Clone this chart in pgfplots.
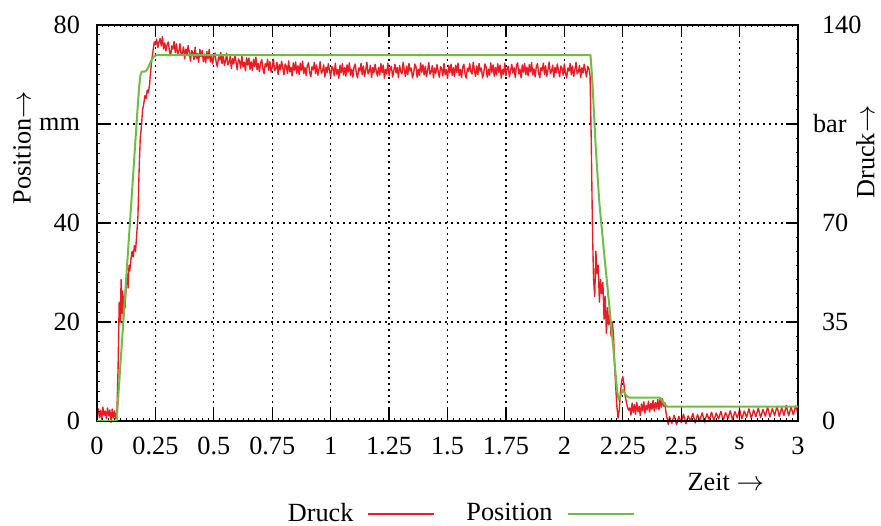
\documentclass[border=0pt]{standalone}
\usepackage{pgfplots}
\pgfplotsset{compat=1.18}
\usepackage{fontspec}
\setmainfont{Liberation Serif}

\definecolor{druckred}{RGB}{236,28,36}
\definecolor{posgreen}{RGB}{108,190,69}

% Druck (bar) over time (s)
\pgfplotstableread{
t p
0.000 2.1
0.005 4.3
0.010 1.2
0.015 3.8
0.020 0.6
0.025 4.9
0.030 2.0
0.035 3.5
0.040 0.9
0.045 4.6
0.050 1.8
0.055 3.9
0.060 -0.5
0.065 4.2
0.070 1.0
0.075 3.6
0.080 0.8
0.085 3.0
0.090 18
0.095 42
0.100 35
0.103 50
0.106 38
0.110 46
0.113 36
0.117 44
0.120 40
0.125 48
0.130 52
0.133 47
0.137 55
0.140 53
0.145 57
0.150 60
0.155 58
0.160 62
0.165 60
0.170 66
0.175 72
0.180 88
0.185 100
0.190 104
0.195 110
0.200 112
0.205 115
0.210 114
0.215 117
0.220 116
0.225 119
0.230 124
0.235 128
0.240 131
0.245 134
0.250 133
0.255 135
0.260 132
0.265 134
0.270 135.2
0.275 132.6
0.280 135.9
0.285 131.5
0.290 133.7
0.295 130.8
0.300 133.0
0.305 134.0
0.310 130.7
0.315 129.1
0.320 132.6
0.325 131.5
0.330 134.2
0.335 130.2
0.340 133.3
0.345 129.6
0.350 130.7
0.355 133.4
0.360 129.3
0.365 130.1
0.370 132.3
0.375 128.0
0.380 131.5
0.385 129.6
0.390 132.7
0.395 130.4
0.400 127.2
0.405 131.0
0.410 130.2
0.415 127.7
0.420 132.1
0.425 128.2
0.430 129.9
0.435 126.8
0.440 131.4
0.445 128.8
0.450 131.0
0.455 127.0
0.460 129.7
0.465 126.6
0.470 130.6
0.475 128.0
0.480 131.3
0.485 126.9
0.490 129.1
0.495 126.2
0.500 129.1
0.505 130.1
0.510 126.8
0.515 125.2
0.520 128.7
0.525 127.6
0.530 130.3
0.535 126.3
0.540 129.4
0.545 125.7
0.550 127.3
0.555 130.0
0.560 125.9
0.565 126.7
0.570 128.9
0.575 124.6
0.580 128.1
0.585 126.2
0.590 129.3
0.595 127.0
0.600 124.2
0.605 128.0
0.610 127.2
0.615 124.7
0.620 129.1
0.625 125.2
0.630 126.9
0.635 123.8
0.640 128.4
0.645 125.8
0.650 128.3
0.655 124.3
0.660 127.0
0.665 123.9
0.670 127.9
0.675 125.3
0.680 128.6
0.685 124.2
0.690 126.4
0.695 123.5
0.700 126.7
0.705 127.7
0.710 124.4
0.715 122.8
0.720 126.3
0.725 125.2
0.730 127.9
0.735 123.9
0.740 127.0
0.745 123.3
0.750 125.2
0.755 127.9
0.760 123.8
0.765 124.6
0.770 126.8
0.775 122.5
0.780 126.0
0.785 124.1
0.790 127.2
0.795 124.9
0.800 122.4
0.805 126.2
0.810 125.4
0.815 122.9
0.820 127.3
0.825 123.4
0.830 125.1
0.835 122.0
0.840 126.6
0.845 124.0
0.850 126.9
0.855 122.9
0.860 125.6
0.865 122.5
0.870 126.5
0.875 123.9
0.880 127.2
0.885 122.8
0.890 125.0
0.895 122.1
0.900 125.6
0.905 126.6
0.910 123.3
0.915 121.7
0.920 125.2
0.925 124.1
0.930 126.8
0.935 122.8
0.940 125.9
0.945 122.2
0.950 124.3
0.955 127.0
0.960 122.9
0.965 123.7
0.970 125.9
0.975 121.6
0.980 125.1
0.985 123.2
0.990 126.3
0.995 124.0
1.000 121.6
1.005 125.4
1.010 124.6
1.015 122.1
1.020 126.5
1.025 122.6
1.030 124.3
1.035 121.2
1.040 125.8
1.045 123.2
1.050 126.3
1.055 122.3
1.060 125.0
1.065 121.9
1.070 125.9
1.075 123.3
1.080 126.6
1.085 122.2
1.090 124.4
1.095 121.5
1.100 125.2
1.105 126.2
1.110 122.9
1.115 121.3
1.120 124.8
1.125 123.7
1.130 126.4
1.135 122.4
1.140 125.5
1.145 121.8
1.150 124.1
1.155 126.8
1.160 122.7
1.165 123.5
1.170 125.7
1.175 121.4
1.180 124.9
1.185 123.0
1.190 126.1
1.195 123.8
1.200 121.9
1.205 125.0
1.210 122.3
1.215 126.3
1.220 123.2
1.225 125.8
1.230 121.2
1.235 124.3
1.240 122.6
1.245 126.5
1.250 122.1
1.255 124.6
1.260 125.4
1.265 121.6
1.270 123.8
1.275 126.1
1.280 123.0
1.285 124.9
1.290 121.4
1.295 125.7
1.300 123.5
1.305 122.7
1.310 126.8
1.315 124.1
1.320 121.8
1.325 125.5
1.330 122.4
1.335 126.4
1.340 123.7
1.345 124.8
1.350 121.3
1.355 122.9
1.360 126.2
1.365 125.2
1.370 121.5
1.375 124.4
1.380 122.2
1.385 126.6
1.390 123.3
1.395 125.9
1.400 122.3
1.405 125.4
1.410 121.7
1.415 124.0
1.420 126.7
1.425 122.6
1.430 123.4
1.435 125.6
1.440 121.3
1.445 124.8
1.450 122.9
1.455 126.0
1.460 123.7
1.465 121.5
1.470 125.3
1.475 124.5
1.480 122.0
1.485 126.4
1.490 122.5
1.495 124.2
1.500 121.1
1.505 125.7
1.510 123.1
1.515 126.2
1.520 122.2
1.525 124.9
1.530 121.8
1.535 125.8
1.540 123.2
1.545 126.5
1.550 122.1
1.555 124.3
1.560 121.4
1.565 125.1
1.570 126.1
1.575 122.8
1.580 121.2
1.585 124.7
1.590 123.6
1.595 126.3
1.600 123.5
1.605 122.7
1.610 126.8
1.615 124.1
1.620 121.8
1.625 125.5
1.630 122.4
1.635 126.4
1.640 123.7
1.645 124.8
1.650 121.3
1.655 122.9
1.660 126.2
1.665 125.2
1.670 121.5
1.675 124.4
1.680 122.2
1.685 126.6
1.690 123.3
1.695 125.9
1.700 121.9
1.705 125.0
1.710 122.3
1.715 126.3
1.720 123.2
1.725 125.8
1.730 121.2
1.735 124.3
1.740 122.6
1.745 126.5
1.750 122.1
1.755 124.6
1.760 125.4
1.765 121.6
1.770 123.8
1.775 126.1
1.780 123.0
1.785 124.9
1.790 121.4
1.795 125.7
1.800 126.6
1.805 122.7
1.810 124.4
1.815 121.3
1.820 125.9
1.825 123.3
1.830 126.4
1.835 122.4
1.840 125.1
1.845 122.0
1.850 126.0
1.855 123.4
1.860 126.7
1.865 122.3
1.870 124.5
1.875 121.6
1.880 125.3
1.885 126.3
1.890 123.0
1.895 121.4
1.900 124.9
1.905 123.8
1.910 126.5
1.915 122.5
1.920 125.6
1.925 121.9
1.930 124.2
1.935 126.9
1.940 122.8
1.945 123.6
1.950 125.8
1.955 121.5
1.960 125.0
1.965 123.1
1.970 126.2
1.975 123.9
1.980 121.7
1.985 125.5
1.990 124.7
1.995 122.2
2.000 126.2
2.005 122.9
2.010 121.3
2.015 124.8
2.020 123.7
2.025 126.4
2.030 122.4
2.035 125.5
2.040 121.8
2.045 124.1
2.050 126.8
2.055 122.7
2.060 123.5
2.065 125.7
2.070 121.4
2.075 124.9
2.080 123.0
2.085 126.1
2.090 123.8
2.095 121.6
2.100 125.4
2.105 124.6
2.110 122.1
2.115 100
2.120 70
2.125 50
2.130 44
2.135 60
2.140 52
2.145 55
2.150 42
2.155 50
2.160 45
2.165 49
2.170 36
2.175 44
2.180 31
2.185 40
2.190 34
2.195 38
2.200 30
2.205 35
2.210 31
2.215 20
2.220 12
2.225 5
2.230 1.0
2.235 4
2.240 10
2.245 14
2.250 15.7
2.255 13
2.260 9
2.265 7
2.270 5
2.275 3.8
2.280 4.6
2.285 2.1
2.290 6.3
2.295 3.0
2.300 5.8
2.305 2.4
2.310 6.6
2.315 3.3
2.320 5.2
2.325 1.9
2.330 6.0
2.335 3.6
2.340 6.8
2.345 2.8
2.350 5.5
2.355 3.9
2.360 7.0
2.365 3.2
2.370 6.2
2.375 4.1
2.380 7.3
2.385 3.5
2.390 6.5
2.395 4.4
2.400 7.6
2.405 4.0
2.410 8.0
2.415 4.8
2.420 7.8
2.425 5.2
2.430 6.5
2.435 3.0
2.440 0.8
2.445 -1.2
2.450 1.5
2.460 -0.8
2.470 2.0
2.480 -1.3
2.490 1.6
2.500 -0.5
2.510 2.4
2.520 -1.0
2.530 1.8
2.540 0.0
2.550 2.6
2.560 -0.7
2.570 2.2
2.580 0.3
2.590 2.9
2.600 -0.4
2.610 2.5
2.620 0.5
2.630 3.1
2.640 0.1
2.650 2.8
2.660 0.7
2.670 3.4
2.680 0.2
2.690 3.0
2.700 0.9
2.710 3.6
2.720 0.4
2.730 3.3
2.740 1.1
2.750 4.0
2.760 0.8
2.770 3.5
2.780 1.3
2.790 4.3
2.800 0.9
2.810 3.9
2.820 1.5
2.830 4.6
2.840 1.2
2.850 4.1
2.860 1.7
2.870 4.9
2.880 1.4
2.890 4.4
2.900 1.9
2.910 5.2
2.920 1.6
2.930 4.7
2.940 2.0
2.950 5.5
2.960 1.8
2.970 4.9
2.980 2.2
2.990 5.3
3.000 2.5
}\druck

% Position (mm) over time (s)
\pgfplotstableread{
t s
0.000 0.0
0.084 0.0
0.100 11.2
0.120 25.3
0.140 39.4
0.160 53.5
0.172 62.0
0.180 67.4
0.186 69.9
0.192 70.6
0.205 70.6
0.212 70.8
0.220 71.5
0.235 73.1
0.248 73.8
0.260 73.9
2.112 73.9
2.120 68.5
2.135 54.7
2.150 44.0
2.170 34.0
2.190 24.5
2.210 14.5
2.225 6.5
2.232 4.3
2.240 4.9
2.250 6.3
2.260 5.5
2.270 4.9
2.280 4.7
2.410 4.7
2.425 3.6
2.440 2.9
3.000 2.9
}\position

\pgfplotsset{
  frame/.style={
    width=280.4pt, height=158.4pt, scale only axis,
    xmin=0, xmax=3,
    xtick={0,0.25,0.5,0.75,1,1.25,1.5,1.75,2,2.25,2.5,2.75,3},
    minor x tick num=9,
    font=\fontsize{10.5}{12.6}\selectfont,
    tick align=inside,
    major tick length=4.8pt,
    minor tick length=1pt,
    axis line style={line width=0.6pt},
    every tick/.style={black, line width=0.5pt},
    every minor tick/.style={black, line width=0.4pt},
    xtick pos=both,
  }
}

\begin{document}
\begin{tikzpicture}
% right axis: Druck in bar, with the grid underneath everything
\begin{axis}[frame,
  ymin=0, ymax=140,
  ytick={0,35,70,105,140},
  yticklabels={0,35,70,\hspace*{-3.6pt}bar,140},
  minor y tick num=6,
  ytick pos=right, yticklabel pos=right,
  yticklabel style={anchor=west, xshift=6.1pt},
  xticklabels={},
  grid=major,
  major grid style={black, line width=0.5pt, dash pattern=on 0.7pt off 1.7pt},
  ylabel={Druck$\rightarrow$},
  ylabel style={at={(axis description cs:1.096,0.679)}, anchor=center},
  clip=false,
]
\addplot[druckred, line width=0.55pt, line join=round] table[x=t, y=p] {\druck};
\end{axis}
% left axis: Position in mm
\begin{axis}[frame,
  ymin=0, ymax=80,
  ytick={0,20,40,60,80},
  yticklabels={0,20,40,mm,80},
  minor y tick num=9,
  ytick pos=left,
  yticklabel style={xshift=-3.3pt},
  xticklabels={0,0.25,0.5,0.75,1,1.25,1.5,1.75,2,2.25,2.5,s,3},
  xticklabel pos=lower,
  xticklabel style={yshift=-3pt},
  xlabel={Zeit $\rightarrow$},
  xlabel style={at={(axis description cs:0.897,-0.154)}, anchor=center},
  ylabel={Position$\rightarrow$},
  ylabel style={at={(axis description cs:-0.107,0.69)}, anchor=center},
  legend columns=2,
  legend plot pos=right,
  legend image code/.code={%
    \path[draw=none, fill=none] (0pt,-1pt) rectangle (30.4pt,1pt);
    \draw[#1] (4pt,0pt) -- (30.4pt,0pt);},
  legend style={at={(axis description cs:0.516,-0.235)}, anchor=center,
    draw=none, fill=none,
    /tikz/every even column/.append style={column sep=10.5pt}},
]
\addlegendimage{druckred, line width=0.6pt}
\addlegendentry{Druck}
\addplot[posgreen, line width=0.8pt, line join=round] table[x=t, y=s] {\position};
\addlegendentry{Position}
\coordinate (bbA) at (rel axis cs:-0.1384,1.0631);
\coordinate (bbB) at (rel axis cs:1.1184,-0.2652);
\end{axis}
\pgfresetboundingbox
\path[use as bounding box] (bbA) rectangle (bbB);
\end{tikzpicture}
\end{document}
